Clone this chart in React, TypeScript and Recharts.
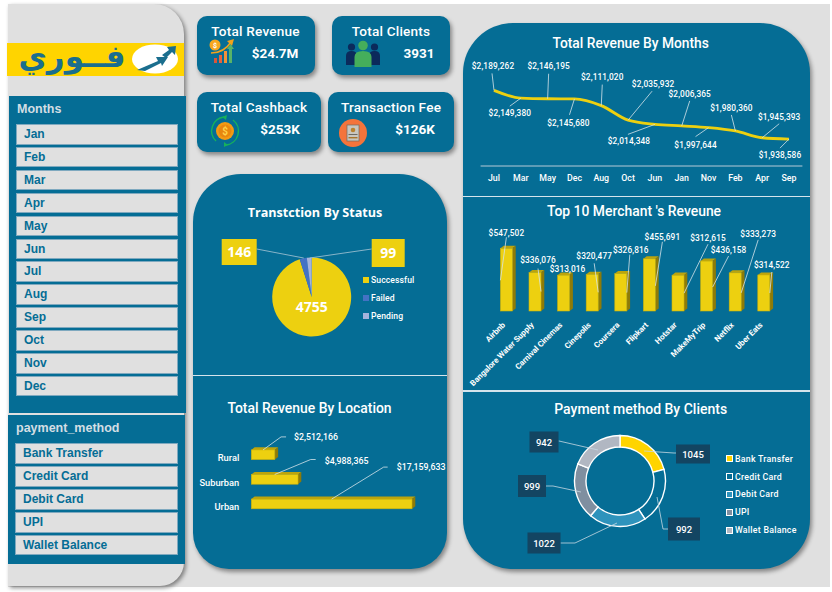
import React from 'react';
import {
  LineChart, Line, BarChart, Bar, PieChart, Pie, XAxis, YAxis, LabelList, Legend,
} from 'recharts';

// values
const monthOrder = ['Jul', 'Mar', 'May', 'Dec', 'Aug', 'Oct', 'Jun', 'Jan', 'Nov', 'Feb', 'Apr', 'Sep'];
const monthRevenue = [2189262, 2149380, 2146195, 2145680, 2111020, 2035932, 2014348, 2006365, 1997644, 1980360, 1945393, 1938586];
const merchants = ['Airbnb', 'Bangalore Water Supply', 'Carnival Cinemas', 'Cinepolis', 'Coursera', 'Flipkart', 'Hotstar', 'MakeMyTrip', 'Netflix', 'Uber Eats'];
const merchantRevenue = [547502, 336076, 313016, 320477, 326816, 455691, 312615, 436158, 333273, 314522];
const locations = ['Rural', 'Suburban', 'Urban'];
const locationRevenue = [2512166, 4988365, 17159633];
const statuses = ['Successful', 'Failed', 'Pending'];
const statusCounts = [4755, 146, 99];
const methods = ['Bank Transfer', 'Credit Card', 'Debit Card', 'UPI', 'Wallet Balance'];
const methodClients = [1045, 992, 1022, 999, 942];
const sliceMonths = ['Jan', 'Feb', 'Mar', 'Apr', 'May', 'Jun', 'Jul', 'Aug', 'Sep', 'Oct', 'Nov', 'Dec'];

const BLUE = '#056D95';
const YELLOW = '#EDD010';
const GREY = '#E0E0E0';
const statusColors = [YELLOW, '#4472C4', '#A5B3DC'];
const methodColors = ['#FFD400', BLUE, '#2E93BC', '#7F8FA0', '#B1B7C2'];

const monthData = monthOrder.map((m, i) => ({ name: m, value: monthRevenue[i] }));
const merchantData = merchants.map((m, i) => ({ name: m, value: merchantRevenue[i] }));
const locationData = locations.map((m, i) => ({ name: m, value: locationRevenue[i] }));
const statusData = statuses.map((m, i) => ({ name: m, value: statusCounts[i], fill: statusColors[i] }));
const methodData = methods.map((m, i) => ({ name: m, value: methodClients[i], fill: methodColors[i] }));

// label placement: [leader start dx, dy, leader end dx, dy, text dx, dy], relative to the point
const monthLabelPos = [
  [0, 0, -2, -17, -1, -24], [0, 0, -11, 8, -11, 15], [0, 0, 1, -25, 1, -33], [0, 0, -5, 16, -6, 24],
  [0, 0, 1, -21, 1, -29], [0, 0, 24, -29, 25, -36], [0, 0, -27, 10, -26, 17], [0, 0, 8, -25, 8, -32],
  [0, 0, -13, 9, -13, 17], [0, 0, -4, -16, -4, -23], [0, 0, 17, -14, 17, -21], [0, 0, -9, 9, -9, 16],
];
const merchantLabelPos = [
  [-6, 32, 0, -11, 0, -15], [6, 19, 3, -4, 3, -13], [4, -3, 4, -3, 4, -6], [6, 18, 2, -11, 2, -18],
  [6, 19, 9, -19, 10, -24], [6, 27, 13, -17, 13, -22], [6, 18, 30, -31, 30, -37], [6, 26, 22, -5, 22, -11],
  [6, 20, 23, -33, 23, -39], [6, 18, 8, -3, 8, -10],
];
// [elbow dx, dy, end dx, dy, text dx, dy] from the middle of the bar's top edge
const locationLabelPos = [
  [18, -13, 23, -13, 31, -13], [36, -15, 41, -15, 50, -14], [52, -32, 56, -32, 65, -32],
];
// [box dx, dy, w, h, start dx, dy, elbow dx, dy] from the donut centre
const methodLabelPos = [
  [73, -27, 34, 19, 24, -30, 54, -28],
  [64, 48, 32, 23, 37, 16, 43, 48],
  [-76, 62, 33, 21, -3, 42, -45, 62],
  [-88, 5, 28, 22, -39, 11, -67, 5],
  [-76, -39, 29, 21, -22, -31, -61, -40],
];

const money = (v: number) => '$' + v.toLocaleString('en-US');
const chartFont = 'Roboto, sans-serif';
const leaderColor = '#D6E3EA';

function Txt({ x, y, size, children, color = '#fff', weight = 500, font = chartFont, spacing = 0, align = 'center' }: any) {
  const tx = align === 'center' ? '-50%' : '0';
  return (
    <div style={{ position: 'absolute', left: x, top: y, transform: `translate(${tx},-50%)`, fontFamily: font, fontSize: size, fontWeight: weight, color, letterSpacing: spacing, whiteSpace: 'nowrap', lineHeight: 1 }}>
      {children}
    </div>
  );
}

function Panel({ x, y, w, h, radius }: any) {
  return <div style={{ position: 'absolute', left: x, top: y, width: w, height: h, background: BLUE, borderRadius: radius, boxShadow: '2px 3px 4px rgba(0,0,0,0.4)' }} />;
}

function Card({ x, y, w, h, title, value, titleX, valueX, icon }: any) {
  return (
    <>
      <Panel x={x} y={y} w={w} h={h} radius={10} />
      <Txt x={titleX} y={y + 16} size={13.6} weight={500} spacing={0.2}>{title}</Txt>
      <Txt x={valueX} y={y + 38} size={13.5} weight={700}>{value}</Txt>
      {icon}
    </>
  );
}

function Slicer({ x, y, w, title, items, titleY, itemTop }: any) {
  return (
    <>
      <Txt x={x} y={titleY} size={12.5} weight={700} font="'Liberation Sans', sans-serif" color="#D3DEE4" align="left">{title}</Txt>
      {items.map((it: string, i: number) => (
        <div key={it} style={{ position: 'absolute', left: x - 1, top: itemTop + i * 22.9, width: w, height: 20.6, boxSizing: 'border-box', background: GREY, border: '1px solid #7FA9BF', color: BLUE, fontFamily: "'Liberation Sans', sans-serif", fontWeight: 700, fontSize: 12, lineHeight: '19.6px', paddingLeft: 7 }}>
          {it}
        </div>
      ))}
    </>
  );
}

// extruded bar, same look as the Excel 3D column
function Bar3D({ x, y, width, height }: any) {
  const dx = 3.3;
  const dy = 2.6;
  return (
    <g>
      <polygon points={`${x},${y} ${x + dx},${y - dy} ${x + width + dx},${y - dy} ${x + width},${y}`} fill="#BCA40C" />
      <polygon points={`${x + width},${y} ${x + width + dx},${y - dy} ${x + width + dx},${y + height - dy} ${x + width},${y + height}`} fill="#8E7B08" />
      <rect x={x} y={y} width={width} height={height} fill={YELLOW} stroke="#C9B10B" strokeWidth={0.6} />
    </g>
  );
}

function CalloutText({ x, y, value, start = 'middle' }: any) {
  return (
    <text x={x} y={y} dy={3} textAnchor={start} fill="#fff" fontFamily={chartFont} fontSize={8.3} fontWeight={500} letterSpacing={0.1}>
      {money(value)}
    </text>
  );
}

const monthLabel = (p: any) => {
  const [sx, sy, ex, ey, tx, ty] = monthLabelPos[p.index];
  return (
    <g>
      <line x1={p.x + sx} y1={p.y + sy} x2={p.x + ex} y2={p.y + ey} stroke={leaderColor} strokeWidth={0.8} />
      <CalloutText x={p.x + tx} y={p.y + ty} value={p.value} />
    </g>
  );
};

const merchantLabel = (p: any) => {
  const [sx, sy, ex, ey, tx, ty] = merchantLabelPos[p.index];
  const cx = p.x + p.width / 2;
  return (
    <g>
      <line x1={cx + sx} y1={p.y + sy} x2={cx + ex} y2={p.y + ey} stroke={leaderColor} strokeWidth={0.8} />
      <CalloutText x={cx + tx} y={p.y + ty} value={p.value} />
    </g>
  );
};

const locationLabel = (p: any) => {
  const [bx, by, ex, ey, tx, ty] = locationLabelPos[p.index];
  const cx = p.x + p.width / 2;
  return (
    <g>
      <polyline points={`${cx},${p.y} ${cx + bx},${p.y + by} ${cx + ex},${p.y + ey}`} fill="none" stroke={leaderColor} strokeWidth={0.8} />
      <text x={cx + tx} y={p.y + ty} dy={3} fill="#fff" fontFamily={chartFont} fontSize={8.8} fontWeight={500}>{money(p.value)}</text>
    </g>
  );
};

const merchantTick = ({ x, y, payload }: any) => (
  <text transform={`translate(${x - 1},${y + 6.5}) rotate(-45)`} textAnchor="end" fill="#fff" fontFamily={chartFont} fontSize={8} fontWeight={700}>
    {payload.value}
  </text>
);

const statusLabel = (p: any) => {
  const font = "'Open Sans', sans-serif";
  if (p.index === 0) {
    return <text x={p.cx} y={p.cy + 15} textAnchor="middle" fill="#fff" fontFamily={font} fontSize={14} fontWeight={700}>{p.value}</text>;
  }
  const left = p.index === 1;
  const bx = left ? p.cx - 90 : p.cx + 60;
  const bw = left ? 35 : 33;
  const bh = left ? 26 : 28;
  return (
    <g>
      <line x1={left ? bx + bw : bx} y1={p.cy - 48} x2={left ? p.cx - 8 : p.cx - 2} y2={p.cy - 39} stroke="#A9C6D6" strokeWidth={0.8} />
      <rect x={bx} y={p.cy - 58} width={bw} height={bh} fill={YELLOW} />
      <text x={bx + bw / 2} y={p.cy - 58 + bh / 2 + 5} textAnchor="middle" fill="#fff" fontFamily={font} fontSize={14} fontWeight={700}>{p.value}</text>
    </g>
  );
};

const methodLabel = (p: any) => {
  const [bx, by, bw, bh, sx, sy, ex, ey] = methodLabelPos[p.index];
  const boxX = p.cx + bx - bw / 2;
  const boxY = p.cy + by - bh / 2;
  const edgeX = bx > 0 ? boxX : boxX + bw;
  return (
    <g>
      <polyline points={`${p.cx + sx},${p.cy + sy} ${p.cx + ex},${p.cy + ey} ${edgeX},${p.cy + ey}`} fill="none" stroke="#C6D8E2" strokeWidth={0.8} />
      <rect x={boxX} y={boxY} width={bw} height={bh} fill="#134562" />
      <text x={p.cx + bx} y={p.cy + by + 3.5} textAnchor="middle" fill="#fff" fontFamily={chartFont} fontSize={9.5} fontWeight={500}>{p.value}</text>
    </g>
  );
};

const statusLegend = ({ payload }: any) => (
  <div>
    {(payload || []).map((e: any) => (
      <div key={e.value} style={{ display: 'flex', alignItems: 'center', height: 18.2, color: '#fff', fontFamily: chartFont, fontSize: 8.6, fontWeight: 500, letterSpacing: 0.1 }}>
        <span style={{ width: 6, height: 6, background: e.color, marginRight: 2 }} />
        {e.value}
      </div>
    ))}
  </div>
);

const methodLegend = ({ payload }: any) => (
  <div>
    {(payload || []).map((e: any) => (
      <div key={e.value} style={{ display: 'flex', alignItems: 'center', height: 17.8, color: '#fff', fontFamily: chartFont, fontSize: 8.8, fontWeight: 500, letterSpacing: 0.25 }}>
        <span style={{ width: 5, height: 5, background: e.color, border: '1px solid #fff', marginRight: 2 }} />
        {e.value}
      </div>
    ))}
  </div>
);

const RevenueIcon = () => (
  <svg style={{ position: 'absolute', left: 208, top: 39, overflow: 'visible' }} width={28} height={25}>
    <path d="M3 14 Q16 14 23 3" fill="none" stroke="#F2A21B" strokeWidth={1.6} />
    <polygon points="26,0 19,2 24,7" fill="#F2A21B" />
    <circle cx={7} cy={6} r={5.5} fill="#F6A81E" />
    <text x={7} y={9} textAnchor="middle" fontSize={7} fontWeight={700} fill="#fff" fontFamily={chartFont}>$</text>
    <rect x={6} y={19} width={3} height={5} fill="#D8553A" />
    <rect x={11} y={16} width={3} height={8} fill="#E8623C" />
    <rect x={16} y={12} width={3} height={12} fill="#F0913A" />
    <rect x={21} y={9} width={3} height={15} fill="#58B368" />
    <polygon points="22.5,5 26,10 19,10" fill="#58B368" />
  </svg>
);

const ClientsIcon = () => (
  <svg style={{ position: 'absolute', left: 346, top: 41, overflow: 'visible' }} width={34} height={26}>
    <circle cx={5.5} cy={6} r={3.6} fill="#0B2A5B" />
    <circle cx={28.5} cy={6} r={3.6} fill="#0B2A5B" />
    <path d="M0 24 V15 Q0 10 5.5 10 Q11 10 11 15 V24 Z" fill="#0B2A5B" />
    <path d="M23 24 V15 Q23 10 28.5 10 Q34 10 34 15 V24 Z" fill="#0B2A5B" />
    <circle cx={17} cy={4.5} r={4.8} fill="#45AE5B" />
    <path d="M8.5 26 V16 Q8.5 10 17 10 Q25.5 10 25.5 16 V26 Z" fill="#45AE5B" />
  </svg>
);

const CashbackIcon = () => (
  <svg style={{ position: 'absolute', left: 210, top: 115, overflow: 'visible' }} width={30} height={32}>
    <path d="M6 26 A14 14 0 0 1 14 2" fill="none" stroke="#17B15B" strokeWidth={1.4} />
    <path d="M23 5 A14 14 0 0 1 16 30" fill="none" stroke="#17B15B" strokeWidth={1.4} />
    <polygon points="12,2 17,0 16,5" fill="#17B15B" />
    <polygon points="18,30 14,32 14,27" fill="#17B15B" />
    <circle cx={15} cy={16} r={9} fill="#F39A12" />
    <circle cx={15} cy={16} r={6.5} fill="#E8870E" />
    <text x={15} y={20} textAnchor="middle" fontSize={10} fontWeight={700} fill="#FFD24A" fontFamily={chartFont}>$</text>
  </svg>
);

const FeeIcon = () => (
  <svg style={{ position: 'absolute', left: 339, top: 119, overflow: 'visible' }} width={28} height={28}>
    <circle cx={14} cy={14} r={14} fill="#F4743B" />
    <rect x={8} y={6} width={12} height={16} fill="#C9C6BE" stroke="#6E6A62" strokeWidth={0.7} />
    <circle cx={14} cy={11} r={2.3} fill="#B9822F" />
    <rect x={9.5} y={15} width={9} height={1} fill="#6E6A62" />
    <rect x={9.5} y={18} width={9} height={1.4} fill="#A9752C" />
  </svg>
);

const Logo = () => (
  <>
    <div style={{ position: 'absolute', left: 7, top: 43, width: 177, height: 33, background: '#FFD400' }} />
    <div style={{ position: 'absolute', left: 16, top: 34, width: 112, height: 44, display: 'flex', justifyContent: 'center', alignItems: 'center', direction: 'rtl', color: '#1A6E8E', fontFamily: "'DejaVu Sans', sans-serif", fontWeight: 700, fontSize: 31, whiteSpace: 'nowrap' }}>
      فــوري
    </div>
    <svg style={{ position: 'absolute', left: 132, top: 44 }} width={46} height={30}>
      <ellipse cx={23} cy={15} rx={23} ry={14.6} fill="#fff" />
      <polygon points="5,26 26,17 24,13 36,13 30,22 29,19 13,27" fill="#1A6E8E" />
      <polygon points="30,11 37,6 35,3 44,2 43,11 40,8 34,14" fill="#1A6E8E" />
    </svg>
  </>
);

export default function App() {
  return (
    <div style={{ position: 'absolute', left: 0, top: 0, width: 832, height: 592, background: '#fff', overflow: 'hidden' }}>
      <div style={{ position: 'absolute', left: 8, top: 4, width: 822, height: 583, background: GREY }} />

      {/* side bar */}
      <div style={{ position: 'absolute', left: 8, top: 4, width: 176, height: 582, background: GREY, borderRadius: '0 30px 24px 0', boxShadow: '2px 2px 4px rgba(0,0,0,0.45)' }} />
      <Logo />
      <div style={{ position: 'absolute', left: 9, top: 96, width: 177, height: 316.5, background: BLUE }} />
      <Slicer x={17} w={162} title="Months" titleY={108.5} itemTop={124} items={sliceMonths} />
      <div style={{ position: 'absolute', left: 8, top: 415, width: 177, height: 149, background: BLUE }} />
      <Slicer x={16} w={163} title="payment_method" titleY={427.5} itemTop={443.3} items={methods} />

      {/* KPI cards */}
      <Card x={197} y={16} w={117.5} h={59} title="Total Revenue" value="$24.7M" titleX={255.5} valueX={275} icon={<RevenueIcon />} />
      <Card x={332} y={16} w={117.5} h={59} title="Total Clients" value="3931" titleX={391} valueX={419} icon={<ClientsIcon />} />
      <Card x={197} y={92} w={124} h={60} title="Total Cashback" value="$253K" titleX={259} valueX={280} icon={<CashbackIcon />} />
      <Card x={327.7} y={92} w={126.3} h={60} title="Transaction Fee" value="$126K" titleX={391} valueX={415} icon={<FeeIcon />} />

      {/* left column */}
      <Panel x={193} y={174} w={254} h={395} radius="48px 48px 36px 36px" />
      <div style={{ position: 'absolute', left: 193, top: 374.5, width: 254, height: 1.5, background: '#D5E4EC' }} />
      <Txt x={315} y={212.8} size={12.6} weight={700} font="'Open Sans', sans-serif">Transtction By Status</Txt>
      <Txt x={309.5} y={408.5} size={13.9}>Total Revenue By Location</Txt>

      <div style={{ position: 'absolute', left: 193, top: 195 }}>
        <PieChart width={254} height={180} margin={{ top: 0, right: 0, bottom: 0, left: 0 }}>
          <Pie data={statusData} dataKey="value" nameKey="name" cx={118.7} cy={102} outerRadius={39.5} startAngle={90} endAngle={-270} stroke="none" label={statusLabel} labelLine={false} isAnimationActive={false} />
          <Legend layout="vertical" align="right" verticalAlign="top" itemSorter={null} content={statusLegend} wrapperStyle={{ left: 170, top: 76, width: 80 }} />
        </PieChart>
      </div>

      <div style={{ position: 'absolute', left: 193, top: 395 }}>
        <BarChart width={254} height={174} data={locationData} layout="vertical" margin={{ top: 47.9, right: 8.4, bottom: 52.3, left: 0.3 }}>
          <XAxis type="number" domain={[0, 20000000]} hide />
          <YAxis type="category" dataKey="name" width={58} axisLine={false} tickLine={false} tickMargin={6} tick={{ fill: '#fff', fontFamily: chartFont, fontSize: 9.3, fontWeight: 500, dy: 2.5 }} />
          <Bar dataKey="value" barSize={9.7} shape={<Bar3D />} isAnimationActive={false}>
            <LabelList dataKey="value" content={locationLabel} />
          </Bar>
        </BarChart>
      </div>

      {/* right column */}
      <Panel x={462.5} y={23} w={347.5} h={546} radius={50} />
      <div style={{ position: 'absolute', left: 463, top: 195.5, width: 347, height: 1.5, background: '#D5E4EC' }} />
      <div style={{ position: 'absolute', left: 463, top: 390, width: 347, height: 1.5, background: '#D5E4EC' }} />
      <Txt x={630.7} y={43.5} size={13.8}>Total Revenue By Months</Txt>
      <Txt x={634} y={211.5} size={13.9}>Top 10 Merchant 's Reveune</Txt>
      <Txt x={640.7} y={408.5} size={14}>Payment method By Clients</Txt>

      <div style={{ position: 'absolute', left: 462, top: 60 }}>
        <LineChart width={348} height={136} data={monthData} margin={{ top: 28.3, right: 7.6, bottom: 0, left: 18.6 }}>
          <XAxis dataKey="name" height={30} padding={{ left: 13.4, right: 13.4 }} stroke="#B7CBD7" tickLine={false} tickMargin={3} interval={0} tick={{ fill: '#fff', fontFamily: chartFont, fontSize: 8.8, fontWeight: 500 }} />
          <YAxis domain={[1800000, 2200000]} hide />
          <Line type="monotone" dataKey="value" stroke={YELLOW} strokeWidth={2.8} dot={false} isAnimationActive={false}>
            <LabelList dataKey="value" content={monthLabel} />
          </Line>
        </LineChart>
      </div>

      <div style={{ position: 'absolute', left: 462, top: 196 }}>
        <BarChart width={348} height={194} data={merchantData} margin={{ top: 46.3, right: 31.6, bottom: 0, left: 30.4 }}>
          <XAxis dataKey="name" height={79} axisLine={false} tickLine={false} interval={0} tick={merchantTick} />
          <YAxis domain={[0, 600000]} hide />
          <Bar dataKey="value" barSize={12} shape={<Bar3D />} isAnimationActive={false}>
            <LabelList dataKey="value" content={merchantLabel} />
          </Bar>
        </BarChart>
      </div>

      <div style={{ position: 'absolute', left: 462, top: 391 }}>
        <PieChart width={348} height={178} margin={{ top: 0, right: 0, bottom: 0, left: 0 }}>
          <Pie data={methodData} dataKey="value" nameKey="name" cx={158} cy={90} innerRadius={34} outerRadius={45.5} startAngle={90} endAngle={-270} stroke="#fff" strokeWidth={1.4} label={methodLabel} labelLine={false} isAnimationActive={false} />
          <Legend layout="vertical" align="right" verticalAlign="top" itemSorter={null} content={methodLegend} wrapperStyle={{ left: 264, top: 59, width: 84 }} />
        </PieChart>
      </div>
    </div>
  );
}
